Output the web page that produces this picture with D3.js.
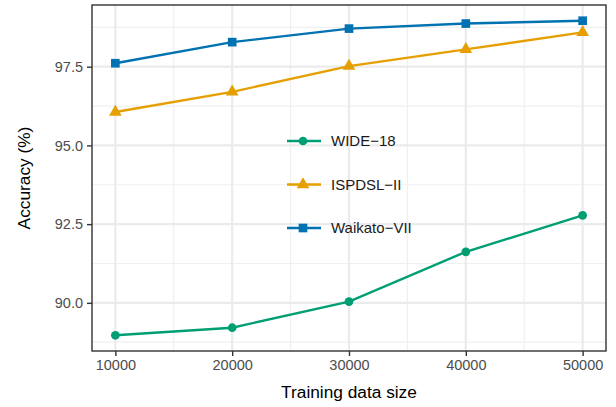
<!DOCTYPE html>
<html>
<head>
<meta charset="utf-8">
<script src="https://cdn.jsdelivr.net/npm/d3@7"></script>
<style>
  html, body { margin: 0; padding: 0; background: #fff; }
  svg { display: block; font-family: "Liberation Sans", Arial, Helvetica, sans-serif; }
</style>
</head>
<body>
<svg id="chart" width="616" height="407"></svg>
<script>
// Training set sizes on the x axis
const sizes = [10000, 20000, 30000, 40000, 50000];

// Accuracy (%) per dataset
const wide18 = [88.97, 89.21, 90.04, 91.62, 92.78];
const ispdsl2 = [96.06, 96.70, 97.52, 98.05, 98.59];
const waikato7 = [97.61, 98.28, 98.71, 98.87, 98.96];

const seriesNames = ["WIDE\u221218", "ISPDSL\u2212II", "Waikato\u2212VII"];
const seriesColors = ["#009E73", "#E69F00", "#0072B2"];
const seriesShapes = ["circle", "triangle", "square"];

const xTicks = [10000, 20000, 30000, 40000, 50000];
const xMinor = [15000, 25000, 35000, 45000];
const yTicks = [90.0, 92.5, 95.0, 97.5];
const yMinor = [88.75, 91.25, 93.75, 96.25, 98.75];

const series = [wide18, ispdsl2, waikato7].map((vals, i) => ({
  name: seriesNames[i],
  color: seriesColors[i],
  shape: seriesShapes[i],
  points: sizes.map((s, j) => ({ x: s, y: vals[j] }))
}));

const svg = d3.select("#chart");
const margin = { top: 5, right: 10, bottom: 56, left: 92 };
const W = 616, H = 407;
const pw = W - margin.left - margin.right;
const ph = H - margin.top - margin.bottom;

const allY = [].concat(wide18, ispdsl2, waikato7);
const yMin = d3.min(allY), yMax = d3.max(allY);
const yPad = (yMax - yMin) * 0.05;
const xPad = (d3.max(sizes) - d3.min(sizes)) * 0.05;

const x = d3.scaleLinear()
  .domain([d3.min(sizes) - xPad, d3.max(sizes) + xPad])
  .range([0, pw]);
const y = d3.scaleLinear()
  .domain([yMin - yPad, yMax + yPad])
  .range([ph, 0]);

const g = svg.append("g").attr("transform", `translate(${margin.left},${margin.top})`);

// Grid
const grid = g.append("g");
grid.selectAll(".xminor").data(xMinor).enter().append("line")
  .attr("x1", d => x(d)).attr("x2", d => x(d)).attr("y1", 0).attr("y2", ph)
  .attr("stroke", "#f0f0f0").attr("stroke-width", 1.2);
grid.selectAll(".yminor").data(yMinor).enter().append("line")
  .attr("y1", d => y(d)).attr("y2", d => y(d)).attr("x1", 0).attr("x2", pw)
  .attr("stroke", "#f0f0f0").attr("stroke-width", 1.2);
grid.selectAll(".xmajor").data(xTicks).enter().append("line")
  .attr("x1", d => x(d)).attr("x2", d => x(d)).attr("y1", 0).attr("y2", ph)
  .attr("stroke", "#ebebeb").attr("stroke-width", 2.2);
grid.selectAll(".ymajor").data(yTicks).enter().append("line")
  .attr("y1", d => y(d)).attr("y2", d => y(d)).attr("x1", 0).attr("x2", pw)
  .attr("stroke", "#ebebeb").attr("stroke-width", 2.2);

// Lines and markers
const line = d3.line().x(d => x(d.x)).y(d => y(d.y));
const sym = { circle: d3.symbolCircle, triangle: d3.symbolTriangle, square: d3.symbolSquare };
const symSize = { circle: 60, triangle: 70, square: 75 };

series.forEach(s => {
  g.append("path").datum(s.points)
    .attr("d", line).attr("fill", "none")
    .attr("stroke", s.color).attr("stroke-width", 2.4);
  g.selectAll(null).data(s.points).enter().append("path")
    .attr("transform", d => `translate(${x(d.x)},${y(d.y)})`)
    .attr("d", d3.symbol().type(sym[s.shape]).size(symSize[s.shape]))
    .attr("fill", s.color);
});

// Panel border
g.append("rect").attr("x", 0).attr("y", 0).attr("width", pw).attr("height", ph)
  .attr("fill", "none").attr("stroke", "#333333").attr("stroke-width", 1.4);

// Axes
const xAxis = g.append("g").attr("transform", `translate(0,${ph})`)
  .call(d3.axisBottom(x).tickValues(xTicks).tickFormat(d3.format("d")).tickSizeOuter(0).tickSize(5).tickPadding(4));
const yAxis = g.append("g")
  .call(d3.axisLeft(y).tickValues(yTicks).tickFormat(d3.format(".1f")).tickSizeOuter(0).tickSize(5).tickPadding(4));
[xAxis, yAxis].forEach(a => {
  a.select(".domain").remove();
  a.selectAll(".tick line").attr("stroke", "#333333").attr("stroke-width", 1.4);
  a.selectAll(".tick text").attr("fill", "#4d4d4d").style("font-size", "14.5px")
    .style("font-family", "'Liberation Sans', Arial, sans-serif");
});

// Axis titles
svg.append("text")
  .attr("x", margin.left + pw / 2).attr("y", 398)
  .attr("text-anchor", "middle").attr("fill", "#000")
  .style("font-size", "17.3px").text("Training data size");
svg.append("text")
  .attr("transform", `translate(29.5,${margin.top + ph / 2}) rotate(-90)`)
  .attr("text-anchor", "middle").attr("fill", "#000")
  .style("font-size", "17.3px").text("Accuracy (%)");

// Legend
const legend = svg.append("g").attr("transform", "translate(287,141)");
series.forEach((s, i) => {
  const row = legend.append("g").attr("transform", `translate(0,${i * 43.5})`);
  row.append("line").attr("x1", 0).attr("x2", 34).attr("y1", 0).attr("y2", 0)
    .attr("stroke", s.color).attr("stroke-width", 2.4);
  row.append("path").attr("transform", "translate(16,0)")
    .attr("d", d3.symbol().type(sym[s.shape]).size(symSize[s.shape]))
    .attr("fill", s.color);
  row.append("text").attr("x", 44).attr("y", 0).attr("dy", "0.35em")
    .attr("fill", "#1a1a1a").style("font-size", "15px").text(s.name);
});
</script>
</body>
</html>
